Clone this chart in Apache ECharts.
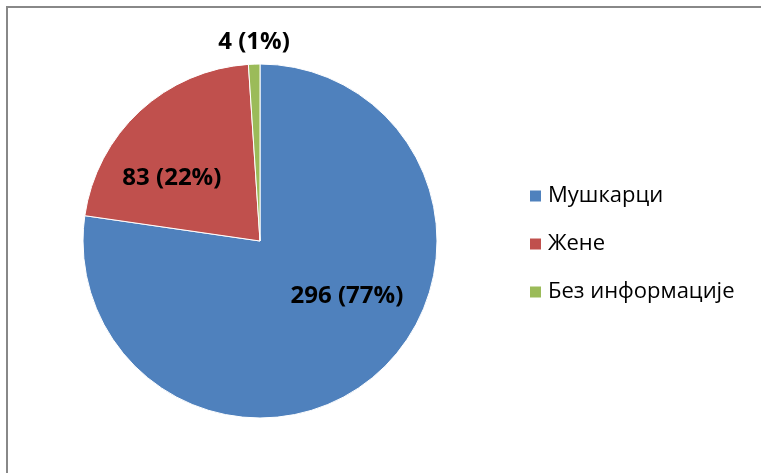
<!DOCTYPE html>
<html>
<head>
<meta charset="utf-8">
<script src="https://cdn.jsdelivr.net/npm/echarts@6/dist/echarts.min.js"></script>
<style>
  html, body { margin: 0; padding: 0; background: #fff; }
  #frame { position: absolute; left: 6px; top: 6px; width: 800px; height: 500px; border: 2px solid #888; box-sizing: border-box; }
  #chart { position: absolute; left: 0; top: 0; width: 761px; height: 473px; }
</style>
</head>
<body>
<div id="frame"></div>
<div id="chart"></div>
<script>
const categories = ['Мушкарци', 'Жене', 'Без информације'];
const values = [296, 83, 4];
const percents = ['77%', '22%', '1%'];
const colors = ['#4F81BD', '#C0504D', '#9BBB59'];

// label nudges so they sit where the original places them
const labelOffsets = [[27, -14], [-26, 4], [-3, -107]];

const chart = echarts.init(document.getElementById('chart'));

const option = {
  animation: false,
  legend: {
    orient: 'vertical',
    left: 523,
    top: 180,
    icon: 'rect',
    itemWidth: 13,
    itemHeight: 13,
    itemGap: 26,
    data: categories,
    textStyle: {
      fontFamily: 'Open Sans',
      fontSize: 22,
      color: '#000',
      padding: [0, 0, 0, 1]
    }
  },
  series: [
    {
      type: 'pie',
      center: [260, 241],
      radius: 177,
      startAngle: 90,
      clockwise: true,
      itemStyle: {
        borderColor: '#fff',
        borderWidth: 1
      },
      labelLine: { show: false },
      data: categories.map((name, i) => ({
        name,
        value: values[i],
        itemStyle: { color: colors[i] },
        label: {
          show: true,
          position: 'inside',
          offset: labelOffsets[i],
          formatter: `${values[i]} (${percents[i]})`,
          fontFamily: 'Open Sans',
          fontWeight: 'bold',
          fontSize: 24,
          color: '#000'
        }
      }))
    }
  ]
};

chart.setOption(option);
</script>
</body>
</html>
